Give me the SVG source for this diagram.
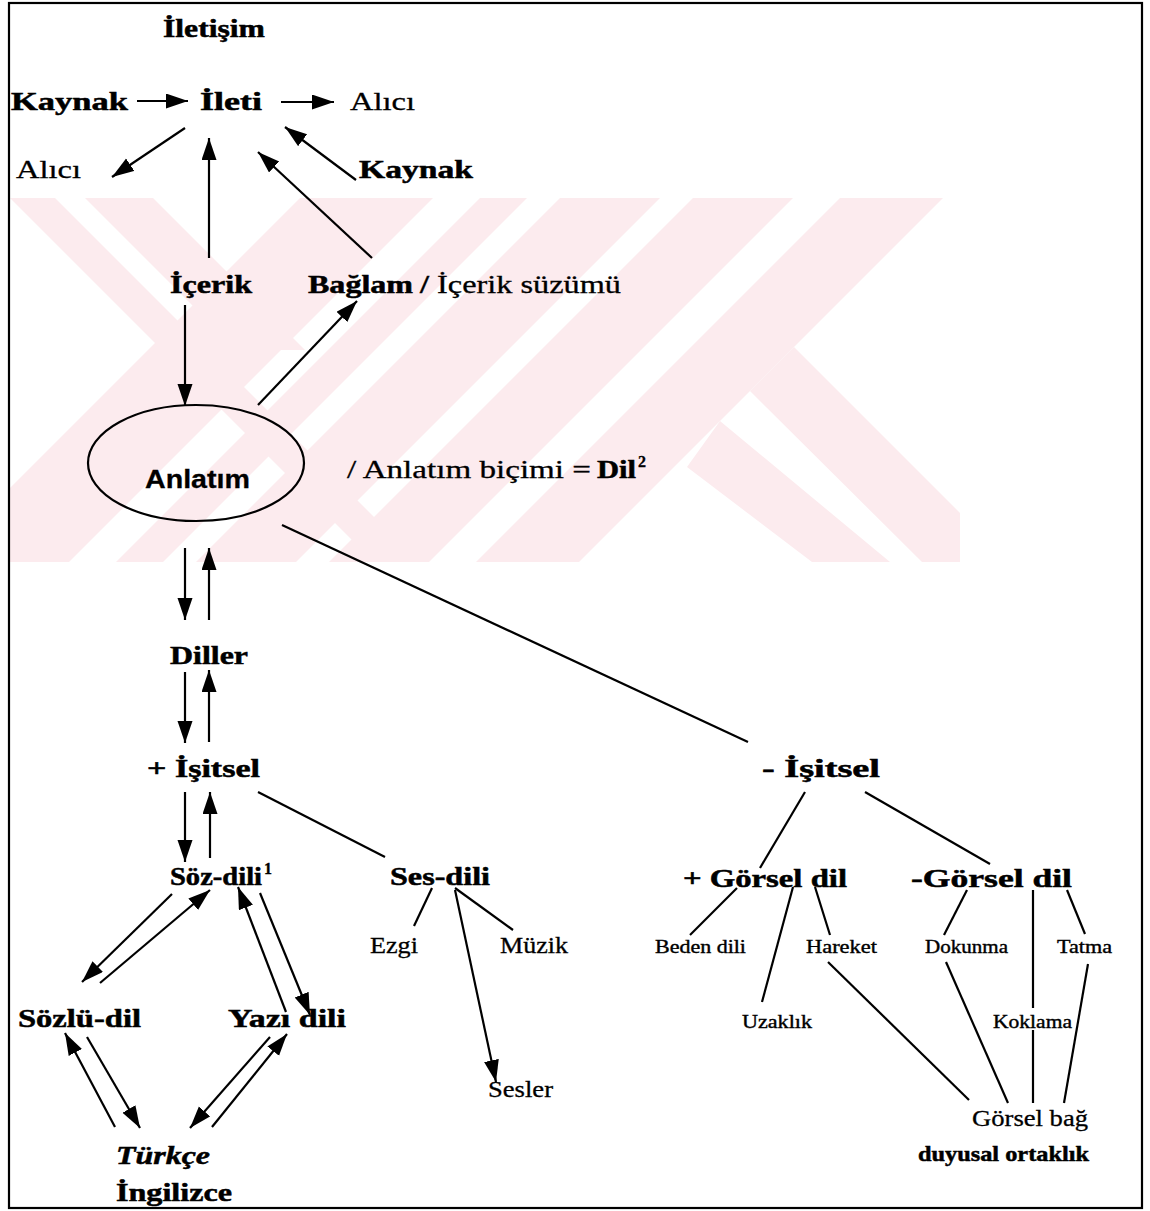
<svg xmlns="http://www.w3.org/2000/svg" width="1150" height="1211" viewBox="0 0 1150 1211">
<style>
.b{font-family:"Liberation Serif","Times New Roman",serif;font-weight:bold;font-size:25px;fill:#000;stroke:#000;stroke-width:0.5}
.r{font-family:"Liberation Serif","Times New Roman",serif;font-size:25px;fill:#000;stroke:#000;stroke-width:0.3}
.m{font-family:"Liberation Serif","Times New Roman",serif;font-size:23px;fill:#000;stroke:#000;stroke-width:0.3}
.s{font-family:"Liberation Serif","Times New Roman",serif;font-size:19px;fill:#000;stroke:#000;stroke-width:0.4}
.sup{font-family:"Liberation Serif","Times New Roman",serif;font-weight:bold;font-size:16px;fill:#000;stroke:#000;stroke-width:0.3}
.sans{font-family:"Liberation Sans",Arial,sans-serif;font-weight:bold;font-size:26px;fill:#000;stroke:#000;stroke-width:0.3}
.ln{stroke:#000;stroke-width:2.2;fill:none}
.ar{stroke:#000;stroke-width:2.2;fill:none;marker-end:url(#ah)}
.wm{fill:#fcebee}
</style>
<defs>
<marker id="ah" markerUnits="userSpaceOnUse" markerWidth="24" markerHeight="16" refX="22" refY="7.5" orient="auto">
<path d="M0,0 L22,7.5 L0,15 z" fill="#000"/>
</marker>
<clipPath id="band"><rect x="10" y="198" width="950" height="364"/></clipPath>
</defs>
<rect x="0" y="0" width="1150" height="1211" fill="#fff"/>
<g id="watermark" clip-path="url(#band)">
<polygon class="wm" points="10,198 55,198 419,562 374,562"/>
<polygon class="wm" points="85,198 153,198 305,350 237,350"/>
<polygon class="wm" points="300,198 433,198 69,562 -64,562"/>
<polygon class="wm" points="480,198 527,198 163,562 116,562"/>
<polygon class="wm" points="560,198 660,198 296,562 196,562"/>
<polygon class="wm" points="693,198 793,198 429,562 329,562"/>
<polygon class="wm" points="840,198 943,198 579,562 476,562"/>
<polygon class="wm" points="794,347 1009,562 922,562 750,391"/>
<polygon class="wm" points="720,421 890,562 812,562 687,467"/>
</g>
<g id="frame"><rect x="9" y="3" width="1133" height="1205" class="ln"/></g>
<g id="connectors">
<line class="ar" x1="137" y1="101" x2="188" y2="101"/>
<line class="ar" x1="281" y1="102" x2="334" y2="102"/>
<line class="ar" x1="185" y1="128" x2="112" y2="177"/>
<line class="ar" x1="209" y1="258" x2="209" y2="138"/>
<line class="ar" x1="372" y1="258" x2="258" y2="152"/>
<line class="ar" x1="356" y1="180" x2="285" y2="127"/>
<line class="ar" x1="185" y1="305" x2="185" y2="406"/>
<line class="ar" x1="258" y1="405" x2="357" y2="301"/>
<line class="ar" x1="185" y1="548" x2="185" y2="620"/>
<line class="ar" x1="209" y1="620" x2="209" y2="548"/>
<line class="ar" x1="185" y1="672" x2="185" y2="743"/>
<line class="ar" x1="209" y1="742" x2="209" y2="670"/>
<line class="ar" x1="185" y1="792" x2="185" y2="862"/>
<line class="ar" x1="210" y1="858" x2="210" y2="792"/>
<line class="ar" x1="172" y1="894" x2="82" y2="982"/>
<line class="ar" x1="100" y1="983" x2="210" y2="890"/>
<line class="ar" x1="260" y1="893" x2="310" y2="1015"/>
<line class="ar" x1="286" y1="1012" x2="238" y2="887"/>
<line class="ar" x1="115" y1="1127" x2="65" y2="1033"/>
<line class="ar" x1="87" y1="1037" x2="140" y2="1128"/>
<line class="ar" x1="270" y1="1037" x2="190" y2="1128"/>
<line class="ar" x1="212" y1="1127" x2="287" y2="1034"/>
<line class="ar" x1="455" y1="890" x2="496" y2="1082"/>
<line class="ln" x1="282" y1="525" x2="748" y2="742"/>
<line class="ln" x1="258" y1="792" x2="385" y2="857"/>
<line class="ln" x1="432" y1="888" x2="414" y2="926"/>
<line class="ln" x1="455" y1="888" x2="513" y2="930"/>
<line class="ln" x1="805" y1="792" x2="760" y2="868"/>
<line class="ln" x1="865" y1="792" x2="990" y2="864"/>
<line class="ln" x1="737" y1="888" x2="690" y2="935"/>
<line class="ln" x1="793" y1="887" x2="762" y2="1002"/>
<line class="ln" x1="815" y1="887" x2="830" y2="935"/>
<line class="ln" x1="828" y1="962" x2="969" y2="1100"/>
<line class="ln" x1="967" y1="890" x2="944" y2="935"/>
<line class="ln" x1="1033" y1="890" x2="1033" y2="1008"/>
<line class="ln" x1="1033" y1="1030" x2="1033" y2="1103"/>
<line class="ln" x1="1067" y1="890" x2="1085" y2="934"/>
<line class="ln" x1="946" y1="962" x2="1008" y2="1103"/>
<line class="ln" x1="1088" y1="964" x2="1064" y2="1103"/>
</g>
<g id="n-iletisim"><text class="b" x="163" y="37" textLength="102" lengthAdjust="spacingAndGlyphs">İletişim</text></g>
<g id="n-kaynak1"><text class="b" x="11" y="110" textLength="117" lengthAdjust="spacingAndGlyphs">Kaynak</text></g>
<g id="n-ileti"><text class="b" x="200" y="110" textLength="62" lengthAdjust="spacingAndGlyphs">İleti</text></g>
<g id="n-alici1"><text class="r" x="350" y="110" textLength="65" lengthAdjust="spacingAndGlyphs">Alıcı</text></g>
<g id="n-alici2"><text class="r" x="16" y="178" textLength="65" lengthAdjust="spacingAndGlyphs">Alıcı</text></g>
<g id="n-kaynak2"><text class="b" x="359" y="178" textLength="114" lengthAdjust="spacingAndGlyphs">Kaynak</text></g>
<g id="n-icerik"><text class="b" x="170" y="293" textLength="82" lengthAdjust="spacingAndGlyphs">İçerik</text></g>
<g id="n-baglam"><text class="b" x="308" y="293" textLength="105" lengthAdjust="spacingAndGlyphs">Bağlam</text><text class="r" x="420" y="293" textLength="201" lengthAdjust="spacingAndGlyphs"><tspan font-weight="bold">/</tspan> İçerik süzümü</text></g>
<g id="n-anlatim"><ellipse cx="196" cy="463" rx="108" ry="58" class="ln"/><text class="sans" x="145" y="488" textLength="105" lengthAdjust="spacingAndGlyphs">Anlatım</text></g>
<g id="n-bicim"><text class="r" x="347" y="478" textLength="244" lengthAdjust="spacingAndGlyphs">/ Anlatım biçimi =</text><text class="b" x="597" y="478" textLength="39" lengthAdjust="spacingAndGlyphs">Dil</text><text class="sup" x="638" y="467">2</text></g>
<g id="n-diller"><text class="b" x="170" y="664" textLength="78" lengthAdjust="spacingAndGlyphs">Diller</text></g>
<g id="n-isitsel-p"><text class="b" x="147" y="777" textLength="113" lengthAdjust="spacingAndGlyphs">+ İşitsel</text></g>
<g id="n-isitsel-m"><text class="b" x="762" y="777" textLength="118" lengthAdjust="spacingAndGlyphs">- İşitsel</text></g>
<g id="n-sozdili"><text class="b" x="170" y="885" textLength="92" lengthAdjust="spacingAndGlyphs">Söz-dili</text><text class="sup" x="264" y="874">1</text></g>
<g id="n-sesdili"><text class="b" x="390" y="885" textLength="100" lengthAdjust="spacingAndGlyphs">Ses-dili</text></g>
<g id="n-ezgi"><text class="m" x="370" y="953" textLength="48" lengthAdjust="spacingAndGlyphs">Ezgi</text></g>
<g id="n-muzik"><text class="m" x="500" y="953" textLength="68" lengthAdjust="spacingAndGlyphs">Müzik</text></g>
<g id="n-sesler"><text class="m" x="488" y="1097" textLength="65" lengthAdjust="spacingAndGlyphs">Sesler</text></g>
<g id="n-sozlu"><text class="b" x="18" y="1027" textLength="123" lengthAdjust="spacingAndGlyphs">Sözlü-dil</text></g>
<g id="n-yazi"><text class="b" x="228" y="1027" textLength="118" lengthAdjust="spacingAndGlyphs">Yazı dili</text></g>
<g id="n-turkce"><text class="b" x="116" y="1164" style="font-style:italic" textLength="94" lengthAdjust="spacingAndGlyphs">Türkçe</text></g>
<g id="n-ingilizce"><text class="b" x="116" y="1201" textLength="116" lengthAdjust="spacingAndGlyphs">İngilizce</text></g>
<g id="n-gorsel-p"><text class="b" x="683" y="887" textLength="164" lengthAdjust="spacingAndGlyphs">+ Görsel dil</text></g>
<g id="n-gorsel-m"><text class="b" x="911" y="887" textLength="161" lengthAdjust="spacingAndGlyphs">-Görsel dil</text></g>
<g id="n-beden"><text class="s" x="655" y="953" textLength="91" lengthAdjust="spacingAndGlyphs">Beden dili</text></g>
<g id="n-hareket"><text class="s" x="806" y="953" textLength="71" lengthAdjust="spacingAndGlyphs">Hareket</text></g>
<g id="n-uzaklik"><text class="s" x="742" y="1028" textLength="70" lengthAdjust="spacingAndGlyphs">Uzaklık</text></g>
<g id="n-dokunma"><text class="s" x="925" y="953" textLength="83" lengthAdjust="spacingAndGlyphs">Dokunma</text></g>
<g id="n-tatma"><text class="s" x="1057" y="953" textLength="55" lengthAdjust="spacingAndGlyphs">Tatma</text></g>
<g id="n-koklama"><text class="s" x="993" y="1028" textLength="79" lengthAdjust="spacingAndGlyphs">Koklama</text></g>
<g id="n-gorselbag"><text class="m" x="972" y="1126" style="font-size:24px" textLength="116" lengthAdjust="spacingAndGlyphs">Görsel bağ</text></g>
<g id="n-duyusal"><text class="b" x="918" y="1161" style="font-size:22px" textLength="171" lengthAdjust="spacingAndGlyphs">duyusal ortaklık</text></g>
</svg>
